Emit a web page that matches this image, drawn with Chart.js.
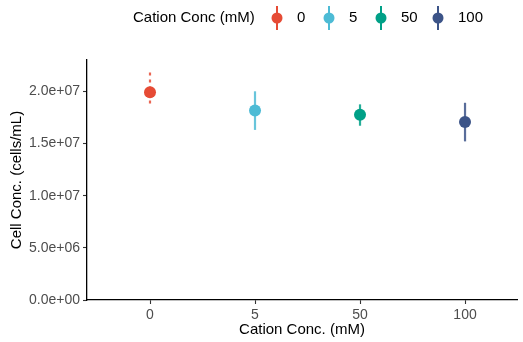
<!DOCTYPE html>
<html>
<head>
<meta charset="utf-8">
<script src="https://cdn.jsdelivr.net/npm/chart.js@4.4.1/dist/chart.umd.min.js"></script>
<style>
  html, body { margin: 0; padding: 0; background: #fff; }
  #wrap { width: 523px; height: 342px; }
</style>
</head>
<body>
<div id="wrap"><canvas id="chart"></canvas></div>
<script>
// cation concentration groups and measured cell counts
const groupes = ['0', '5', '50', '100']
const moyennes = [1.99e7, 1.815e7, 1.775e7, 1.705e7]
const basErreur = [1.88e7, 1.63e7, 1.67e7, 1.52e7]
const hautErreur = [2.18e7, 2.0e7, 1.875e7, 1.89e7]
const couleurs = ['#E64B35', '#4DBBD5', '#00A087', '#3C5488']
const yTicks = [0, 5e6, 1e7, 1.5e7, 2e7]

const police = '"Liberation Sans", Arial, Helvetica, sans-serif'

function formatSci(v) {
    if (v === 0) return '0.0e+00'
    const exp = Math.floor(Math.log10(Math.abs(v)))
    const mant = v / Math.pow(10, exp)
    const e = (exp < 10 ? '0' : '') + exp
    return mant.toFixed(1) + 'e+' + e
}

// ===== BARRES D'ERREUR =====
const barresErreur = {
    id: 'barresErreur',
    beforeDatasetsDraw(chart) {
        const ctx = chart.ctx
        const xs = chart.scales.x, ys = chart.scales.y
        ctx.save()
        groupes.forEach((g, i) => {
            const px = xs.getPixelForValue(i)
            ctx.strokeStyle = couleurs[i]
            ctx.globalAlpha = 0.85
            ctx.lineWidth = 2.2
            if (i === 0) ctx.setLineDash([3, 4])
            else ctx.setLineDash([])
            ctx.beginPath()
            ctx.moveTo(px, ys.getPixelForValue(hautErreur[i]))
            ctx.lineTo(px, ys.getPixelForValue(basErreur[i]))
            ctx.stroke()
        })
        ctx.restore()
    }
}

// ===== LEGENDE =====
const legende = {
    id: 'legende',
    afterDraw(chart) {
        const ctx = chart.ctx
        ctx.save()
        ctx.font = '15px ' + police
        ctx.fillStyle = '#000'
        ctx.textBaseline = 'middle'
        ctx.textAlign = 'left'
        const cy = 18
        ctx.fillText('Cation Conc (mM)', 133, cy)
        const cles = [277, 329, 381, 438]
        groupes.forEach((g, i) => {
            const cx = cles[i]
            ctx.strokeStyle = couleurs[i]
            ctx.lineWidth = 2
            ctx.beginPath()
            ctx.moveTo(cx, cy - 12)
            ctx.lineTo(cx, cy + 12)
            ctx.stroke()
            ctx.fillStyle = couleurs[i]
            ctx.beginPath()
            ctx.arc(cx, cy, 5.5, 0, Math.PI * 2)
            ctx.fill()
            ctx.fillStyle = '#000'
            ctx.fillText(g, cx + 20, cy)
        })
        ctx.restore()
    }
}

const datasets = groupes.map((g, i) => ({
    label: g,
    data: [{ x: i, y: moyennes[i] }],
    backgroundColor: couleurs[i],
    borderColor: couleurs[i],
    pointRadius: 6,
    pointHoverRadius: 6,
    borderWidth: 0
}))

new Chart(document.getElementById('chart'), {
    type: 'scatter',
    data: { datasets },
    options: {
        responsive: true,
        maintainAspectRatio: false,
        animation: false,
        events: [],
        layout: { padding: { top: 60, right: 0, left: 0, bottom: 0 } },
        plugins: { legend: { display: false }, tooltip: { enabled: false } },
        scales: {
            x: {
                type: 'linear',
                min: -0.6,
                max: 3.495,
                afterBuildTicks: s => { s.ticks = groupes.map((g, i) => ({ value: i })) },
                afterFit: s => { s.height = 42 },
                grid: { display: true, drawOnChartArea: false, tickLength: 4, color: '#333', tickWidth: 1.1 },
                border: { color: '#000', width: 1.3 },
                ticks: {
                    callback: v => groupes[v],
                    color: '#4D4D4D',
                    font: { family: police, size: 14 },
                    padding: 3,
                    maxRotation: 0
                },
                title: {
                    display: true,
                    text: 'Cation Conc. (mM)',
                    color: '#000',
                    font: { family: police, size: 15 },
                    padding: { top: 0, bottom: 3 }
                }
            },
            y: {
                min: 0,
                max: 2.3e7,
                afterBuildTicks: s => { s.ticks = yTicks.map(v => ({ value: v })) },
                afterFit: s => { s.width = 87 },
                grid: { display: true, drawOnChartArea: false, tickLength: 4, color: '#333', tickWidth: 1.1 },
                border: { color: '#000', width: 1.3 },
                ticks: {
                    callback: v => formatSci(v),
                    color: '#4D4D4D',
                    font: { family: police, size: 14 },
                    padding: 3
                },
                title: {
                    display: true,
                    text: 'Cell Conc. (cells/mL)',
                    color: '#000',
                    font: { family: police, size: 15 },
                    padding: { top: 8, bottom: 0 }
                }
            }
        }
    },
    plugins: [barresErreur, legende]
})
</script>
</body>
</html>
